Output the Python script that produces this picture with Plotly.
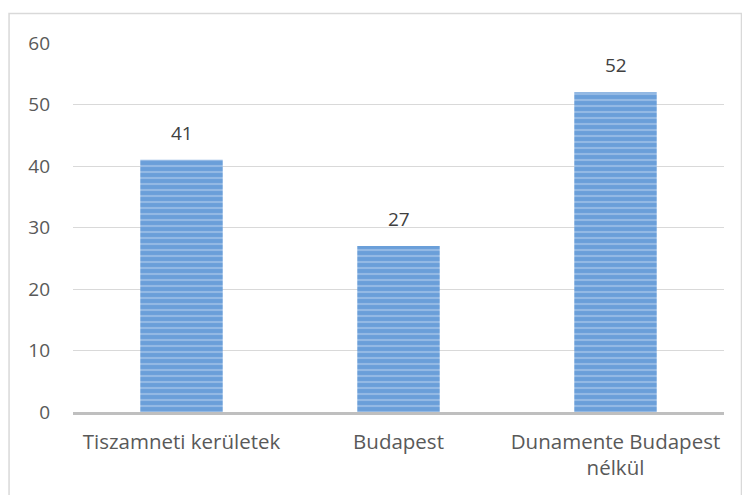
import plotly.graph_objects as go

categories = ["Tiszamneti kerületek", "Budapest", "Dunamente Budapest<br>nélkül"]
values = [41, 27, 52]
y_ticks = [0, 10, 20, 30, 40, 50, 60]

L, R, T, B = 72.5, 18, 43, 82.5
W, H = 742, 495
pw, ph = W - L - R, H - T - B

def px_x(p):
    return (p - L) / pw

def px_y(p):
    return (H - B - p) / ph

fig = go.Figure(go.Bar(
    x=categories, y=values,
    marker=dict(color="#6a9fd9", line=dict(width=0),
                pattern=dict(shape="-", fgcolor="#bcd4f0", bgcolor="#6a9fd9",
                             size=6, solidity=0.35)),
    hoverinfo="skip",
))

for c, v in zip(categories, values):
    fig.add_annotation(x=c, y=v, text=str(v), showarrow=False, yshift=27,
                       font=dict(size=19, color="#404040"))

fig.add_shape(type="rect", xref="paper", yref="paper",
              x0=px_x(8.5), x1=px_x(741.5), y0=px_y(520), y1=px_y(13.5),
              line=dict(color="#d9d9d9", width=1.5), layer="below")

fig.update_layout(
    width=W, height=H,
    margin=dict(l=L, r=R, t=T, b=B, autoexpand=False),
    paper_bgcolor="white", plot_bgcolor="white",
    font=dict(family="Open Sans, Liberation Sans, sans-serif", size=19, color="#595959"),
    bargap=0.62,
    showlegend=False,
    xaxis=dict(showline=True, linecolor="#bfbfbf", linewidth=3, ticks="",
               ticklabelstandoff=9,
               tickfont=dict(size=20.5, color="#595959"), showgrid=False,
               automargin=False, fixedrange=True),
    yaxis=dict(range=[0, 60], tickvals=y_ticks, showgrid=True, gridcolor="#d9d9d9",
               gridwidth=1, zeroline=False, showline=False, ticks="",
               ticklabelstandoff=22, tickfont=dict(size=19, color="#595959"),
               automargin=False, fixedrange=True),
)

fig.write_html("out.html", config={"displayModeBar": False, "staticPlot": True},
               post_script="document.body.style.margin='0px';")
